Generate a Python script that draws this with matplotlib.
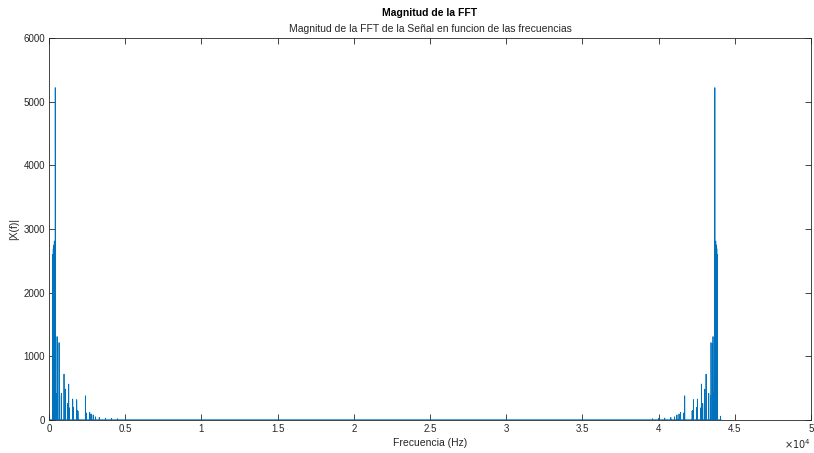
import numpy as np
import matplotlib
matplotlib.use("Agg")
import matplotlib.pyplot as plt

plt.rcParams['font.family'] = ['Liberation Sans', 'DejaVu Sans']

# Sampling / spectrum description
fs = 44100          # Hz
n_bins = 44100      # FFT length
# Peaks of |X(f)| in the lower half of the spectrum (Hz, magnitude)
peak_freqs = [0, 40, 250, 280, 300, 330, 350, 370, 410, 450, 530, 560, 660, 700,
              810, 985, 1075, 1205, 1292, 1340, 1555, 1600, 1817, 1860, 1900,
              2388, 2450, 2670, 2760, 2900, 3050, 3300, 3700, 4100, 4500]
peak_mags = [90, 60, 2600, 2690, 2700, 2750, 2810, 2780, 5220, 420, 1310, 1200, 1215, 380,
             420, 720, 485, 260, 565, 190, 330, 200, 320, 150, 140,
             380, 110, 120, 95, 80, 50, 40, 30, 25, 20]
noise_floor = 4.0

title = "Magnitud de la FFT"
subtitle = "Magnitud de la FFT de la Señal en funcion de las frecuencias"
xlabel = "Frecuencia (Hz)"
ylabel = "|X(f)|"
xticks = [0, 5000, 10000, 15000, 20000, 25000, 30000, 35000, 40000, 45000, 50000]
xticklabels = ["0", "0.5", "1", "1.5", "2", "2.5", "3", "3.5", "4", "4.5", "5"]
yticks = [0, 1000, 2000, 3000, 4000, 5000, 6000]

# Build the magnitude spectrum from the peaks (with conjugate-symmetric mirror)
df = fs / n_bins
freqs = np.arange(n_bins) * df
mag = np.full(n_bins, noise_floor)
for f0, m in zip(peak_freqs, peak_mags):
    k = int(round(f0 / df))
    mag[k] = m
    if k > 0:
        mag[n_bins - k] = m

fig = plt.figure(figsize=(8.14, 4.53), dpi=100)
ax = fig.add_axes([49/814, 1-420/453, (811-49)/814, (420-38)/453])
ax.plot(freqs, mag, color='#0072BD', linewidth=0.6)

ax.set_xlim(0, 50000)
ax.set_ylim(0, 6000)
ax.set_xticks(xticks)
ax.set_xticklabels(xticklabels)
ax.set_yticks(yticks)
ax.tick_params(direction='in', length=4, width=0.6, colors='#262626',
               labelsize=7, top=True, right=True, pad=3)
ax.tick_params(axis='x', top=True, labeltop=False)
ax.tick_params(axis='y', right=True, labelright=False)
for s in ax.spines.values():
    s.set_color('#262626')
    s.set_linewidth(0.6)

ax.set_xlabel(xlabel, fontsize=7.5, color='#262626', labelpad=3)
ax.set_ylabel(ylabel, fontsize=7.5, color='#262626', labelpad=3)
fig.text(0.5 * (49 + 811) / 814, 1 - 13.5/453, title, ha='center', va='center',
         fontsize=7.5, fontweight='bold', color='black')
fig.text(0.5 * (49 + 811) / 814, 1 - 29/453, subtitle, ha='center', va='center',
         fontsize=7.5, color='#262626')
fig.text(811/814, 1 - 444/453, r"$\times10^{4}$", ha='right', va='center',
         fontsize=7, color='#262626')

fig.savefig("out.png", dpi=100)
